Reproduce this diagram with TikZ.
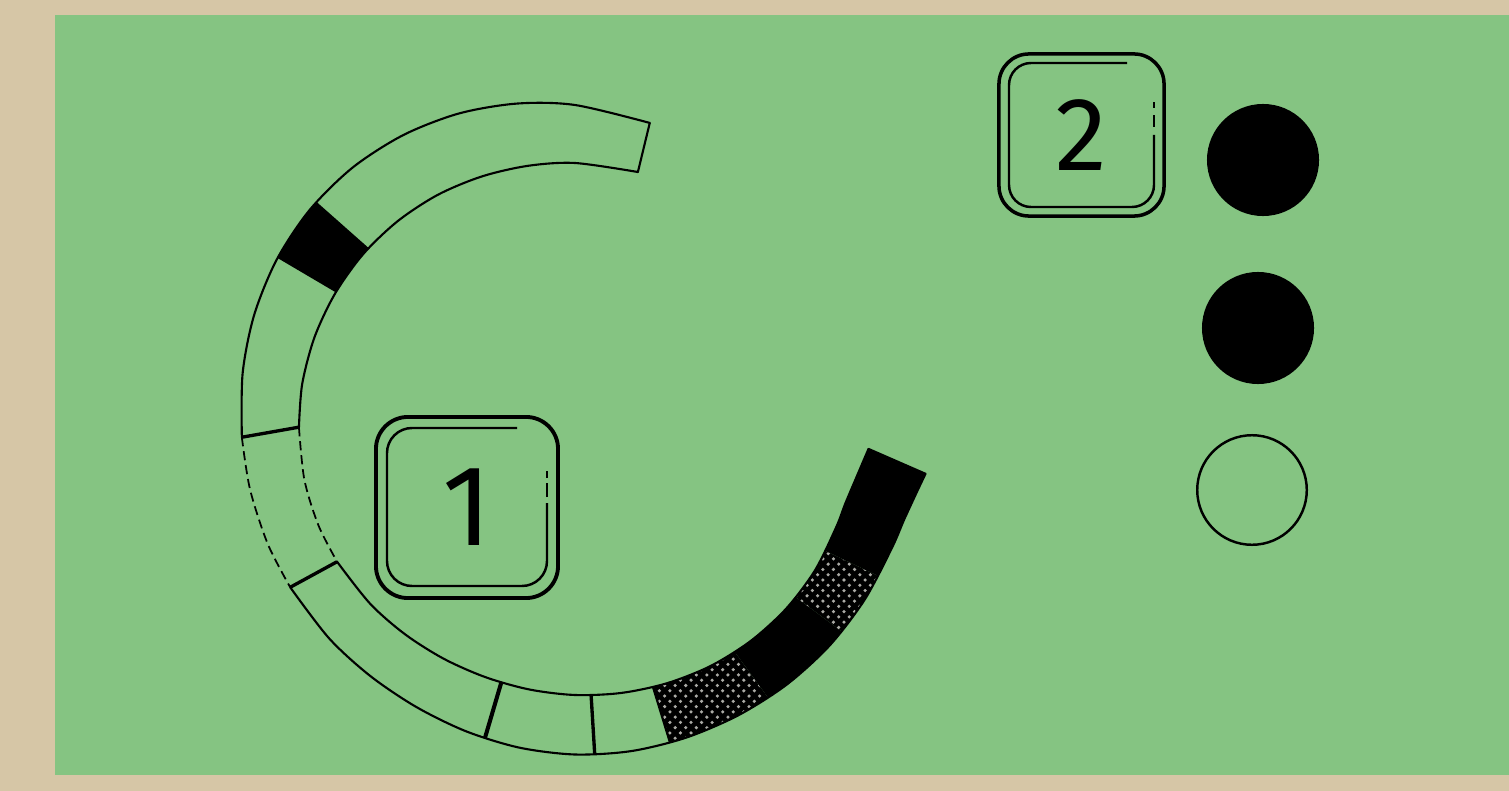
\documentclass[tikz,border=0pt]{standalone}
\usepackage{fontspec}
\newfontfamily\keyfont{Fira Sans}
\usetikzlibrary{calc,patterns}
\definecolor{paper}{RGB}{214,198,166}
\definecolor{board}{RGB}{133,196,130}
\definecolor{speck}{RGB}{170,170,165}
\tikzset{
  ringline/.style={line width=0.6pt, line join=round, line cap=round},
  dashpart/.style={line width=0.5pt, dash pattern=on 2.6pt off 1.4pt},
  divthin/.style={line width=0.6pt},
  divthick/.style={line width=0.95pt},
  keyouter/.style={draw, line width=1.1pt, rounded corners=0.32cm, inner sep=0pt},
  keyinner/.style={line width=0.7pt, rounded corners=0.25cm},
  filleddot/.style={circle, fill=black, minimum size=1.12cm, inner sep=0pt},
  openring/.style={circle, draw, line width=0.7pt, minimum size=1.095cm, inner sep=0pt},
  stipple/.style={fill=black, postaction={pattern=crosshatch dots, pattern color=speck}},
}
\begin{document}
\begin{tikzpicture}[x=0.01cm,y=-0.01cm]
\useasboundingbox (0,0) rectangle (1509,791);
\fill[paper] (0,0) rectangle (1509,791);
\fill[board] (55,15) rectangle (1509,775);

\begin{scope}[shift={(575,432)}]
% divider end points (inner / outer), polar about the ring centre
\coordinate (topi) at (-76.4:267.5); \coordinate (topo) at (-76.4:318);
\coordinate (d1i) at (-138.5:276.4); \coordinate (d1o) at (-138.5:345.9);
\coordinate (d2i) at (-149.5:277);   \coordinate (d2o) at (-149.5:344.6);
\coordinate (d3i) at (-179:276.1);   \coordinate (d3o) at (-180.9:333.2);
\coordinate (d4i) at (-208.6:271);   \coordinate (d4o) at (-208.6:324.4);
\coordinate (d5i) at (-253.6:261.2); \coordinate (d5o) at (-253.6:319.2);
\coordinate (d6i) at (-273.5:263.7); \coordinate (d6o) at (-273.5:323);
\coordinate (d7i) at (-287:266.7);   \coordinate (d7o) at (-287:324.8);
\coordinate (endi) at (-356.7:294);  \coordinate (endo) at (-353.2:353);

% filled segments, clipped to the band
\begin{scope}
\clip plot[smooth] coordinates {(-76.4:318) (-90:327) (-100:333.5) (-110:339) (-120:343) (-130:345.5) (-140:346) (-150:344.5) (-160:341.5) (-170:337.5) (-180:333.5) (-190:330) (-200:327) (-208.6:324.4) (-220:321) (-230:318.5) (-240:317.5) (-250:318.5) (-260:320.5) (-270:322.5) (-280:324) (-290:325.2) (-300:327) (-310:329.6) (-320:332.3) (-330:334.7) (-340:337.5) (-345:340.5) (-350:347) (-353.2:353)}
  -- plot[smooth] coordinates {(-356.7:294) (-350:284) (-345:279.5) (-340:278) (-330:277) (-320:275.3) (-310:273) (-300:270.4) (-290:267.5) (-280:265) (-270:263) (-260:261.5) (-250:261) (-240:262) (-230:264.2) (-220:267.3) (-208.6:271) (-200:273) (-190:274.8) (-180:276) (-170:277) (-160:277.2) (-150:277) (-140:276.6) (-130:275.5) (-120:274) (-110:272) (-100:270.3) (-90:269) (-76.4:267.5)}
  -- cycle;
\fill[black] (-138.5:230) -- (-138.5:390) -- (-149.5:390) -- (-149.5:230) -- cycle;
\fill[stipple] (-287:230) -- (-287:390) -- (-306:390) -- (-306:230) -- cycle;
\fill[black] (-306:230) -- (-306:390) -- (-323.2:390) -- (-323.2:230) -- cycle;
\fill[stipple] (-323.2:230) -- (-323.2:390) -- (-334.6:390) -- (-334.6:230) -- cycle;
\fill[black] (-334.6:230) -- (-334.6:390) -- (-350:410) -- (-365:390) -- (-365:230) -- cycle;
\end{scope}

% outer edge
\draw[ringline] plot[smooth] coordinates {(-76.4:318) (-90:327) (-100:333.5) (-110:339) (-120:343) (-130:345.5) (-140:346) (-150:344.5) (-160:341.5) (-170:337.5) (-180.9:333.2)};
\draw[dashpart] plot[smooth] coordinates {(-180.9:333.2) (-190:330) (-200:327) (-208.6:324.4)};
\draw[ringline] plot[smooth] coordinates {(-208.6:324.4) (-220:321) (-230:318.5) (-240:317.5) (-250:318.5) (-260:320.5) (-270:322.5) (-280:324) (-290:325.2) (-300:327) (-310:329.6) (-320:332.3) (-330:334.7) (-340:337.5) (-345:340.5) (-350:347) (-353.2:353)};
% inner edge
\draw[ringline] plot[smooth] coordinates {(-76.4:267.5) (-90:269) (-100:270.3) (-110:272) (-120:274) (-130:275.5) (-140:276.6) (-150:277) (-160:277.2) (-170:277) (-179:276.1)};
\draw[dashpart] plot[smooth] coordinates {(-179:276.1) (-190:274.8) (-200:273) (-208.6:271)};
\draw[ringline] plot[smooth] coordinates {(-208.6:271) (-220:267.3) (-230:264.2) (-240:262) (-250:261) (-260:261.5) (-270:263) (-280:265) (-290:267.5) (-300:270.4) (-310:273) (-320:275.3) (-330:277) (-340:278) (-345:279.5) (-350:284) (-356.7:294)};

% ends and dividers
\draw[ringline] (topo) -- (topi);
\draw[ringline] (endo) -- (endi);
\draw[divthin] (d1i) -- (d1o);
\draw[divthin] (d2i) -- (d2o);
\draw[divthick] (d3i) -- (d3o);
\draw[divthick] (d4i) -- (d4o);
\draw[divthick, line width=1.15pt] (d5i) -- (d5o);
\draw[divthick] (d6i) -- (d6o);
\draw[divthin] (d7i) -- (d7o);
\end{scope}

% key 1
\node[keyouter, minimum width=1.82cm, minimum height=1.81cm,
      font=\keyfont\fontsize{32.6}{34}\selectfont] (k1) at (467,507.5) {1};
\draw[keyinner] (517,428) -- (387,428) -- (387,586) -- (547,586) -- (547,503);
\draw[line width=0.7pt] (547,497) -- (547,483) (547,478) -- (547,471);

% key 2
\node[keyouter, line width=1.0pt, rounded corners=0.3cm, minimum width=1.65cm, minimum height=1.62cm,
      font=\keyfont\fontsize{29.7}{31}\selectfont] (k2) at (1081.5,135) {2};
\draw[keyinner, rounded corners=0.22cm] (1127,63) -- (1009,63) -- (1009,207) -- (1154,207) -- (1154,135);
\draw[line width=0.7pt] (1154,127) -- (1154,115) (1154,108) -- (1154,102);

% circles
\node[filleddot] (c1) at (1263,160) {};
\node[filleddot] (c2) at (1258,328) {};
\node[openring] (c3) at (1252,490) {};
\end{tikzpicture}
\end{document}
